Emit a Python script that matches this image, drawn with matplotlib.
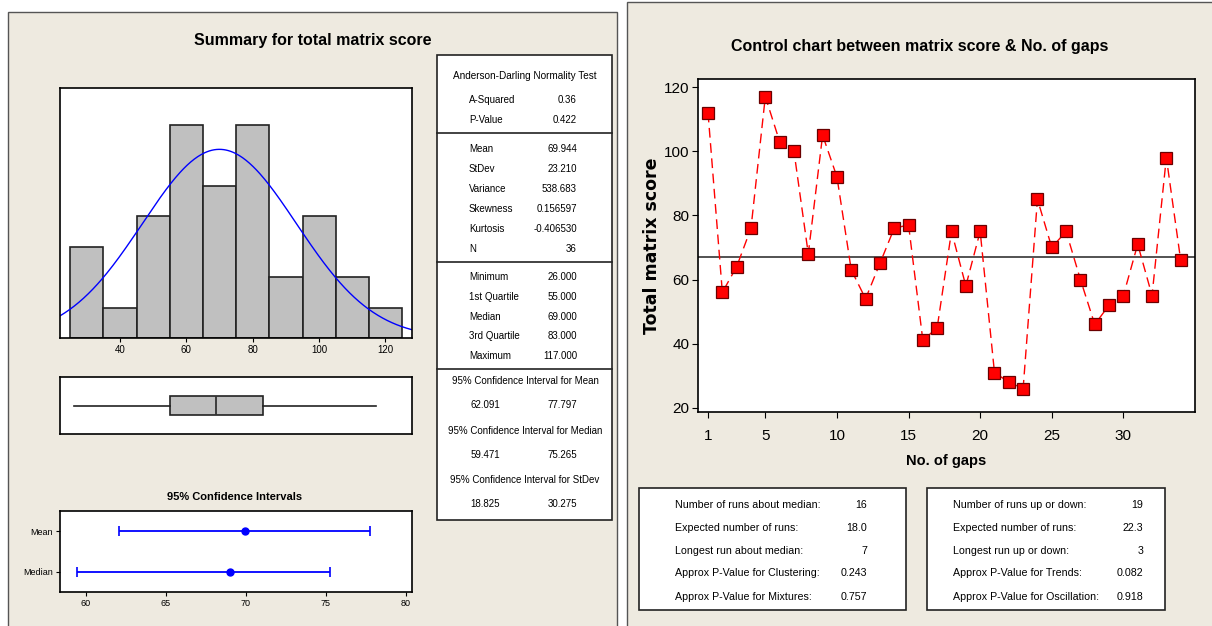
import numpy as np
import matplotlib
matplotlib.use("Agg")
import matplotlib.pyplot as plt
from matplotlib.patches import Rectangle

NARROW = ['Liberation Sans', 'DejaVu Sans']

# -----------------------
#      Data
# -----------------------
bin_edges = [25, 35, 45, 55, 65, 75, 85, 95, 105, 115, 125]
bin_counts = [3, 1, 4, 7, 5, 7, 2, 4, 2, 1]

mean_sd = [69.944, 23.210]
n_obs = 36
box_stats = [26.0, 55.0, 69.0, 83.0, 117.0]  # min, q1, median, q3, max

ci_labels = ['Mean', 'Median']
ci_centers = [69.944, 69.0]
ci_low = [62.091, 59.471]
ci_high = [77.797, 75.265]

ad_labels = ['A-Squared', 'P-Value']
ad_values = ['0.36', '0.422']
moment_labels = ['Mean', 'StDev', 'Variance', 'Skewness', 'Kurtosis', 'N']
moment_values = ['69.944', '23.210', '538.683', '0.156597', '-0.406530', '36']
quant_labels = ['Minimum', '1st Quartile', 'Median', '3rd Quartile', 'Maximum']
quant_values = ['26.000', '55.000', '69.000', '83.000', '117.000']
ci_titles = ['95% Confidence Interval for Mean', '95% Confidence Interval for Median',
             '95% Confidence Interval for StDev']
ci_pairs = [('62.091', '77.797'), ('59.471', '75.265'), ('18.825', '30.275')]

gaps = list(range(1, 35))
scores = [112, 56, 64, 76, 117, 103, 100, 68, 105, 92, 63, 54, 65, 76, 77, 41, 45,
          75, 58, 75, 31, 28, 26, 85, 70, 75, 60, 46, 52, 55, 71, 55, 98, 66]
center_line = 67

runs_median_labels = ['Number of runs about median:', 'Expected number of runs:',
                      'Longest run about median:', 'Approx P-Value for Clustering:',
                      'Approx P-Value for Mixtures:']
runs_median_values = ['16', '18.0', '7', '0.243', '0.757']
runs_updown_labels = ['Number of runs up or down:', 'Expected number of runs:',
                      'Longest run up or down:', 'Approx P-Value for Trends:',
                      'Approx P-Value for Oscillation:']
runs_updown_values = ['19', '22.3', '3', '0.082', '0.918']

# -----------------------
#      Layout helpers
# -----------------------
W, H = 1212, 626
BEIGE = '#eeeae0'
fig = plt.figure(figsize=(W / 100, H / 100), dpi=100)
fig.patch.set_facecolor('white')


def box(x0, y0, x1, y1):
    # pixel box (top-left origin) -> figure fraction rect
    return [x0 / W, 1 - y1 / H, (x1 - x0) / W, (y1 - y0) / H]


def fx(x):
    return x / W


def fy(y):
    return 1 - y / H


def panel(x0, y0, x1, y1, face=BEIGE, edge='#555555', lw=1.0):
    r = Rectangle((fx(x0), fy(y1)), fx(x1) - fx(x0), fy(y0) - fy(y1),
                  transform=fig.transFigure, facecolor=face, edgecolor=edge, lw=lw,
                  zorder=-1)
    fig.patches.append(r)


def ftext(x, y, s, **kw):
    kw.setdefault('family', NARROW)
    kw.setdefault('fontsize', 7)
    kw.setdefault('va', 'center')
    fig.text(fx(x), fy(y), s, **kw)


# background panels
panel(8, 12, 617, 640)
panel(627, 2, 1214, 640)

# -----------------------
#      Left: summary
# -----------------------
ftext(313, 40, 'Summary for total matrix score', fontsize=11.5, weight='bold', ha='center')

ax_h = fig.add_axes(box(60, 88, 412, 338))
centers = [(a + b) / 2 for a, b in zip(bin_edges[:-1], bin_edges[1:])]
ax_h.hist(centers, bins=bin_edges, weights=bin_counts,
          color='#c0c0c0', edgecolor='#222222', lw=1.2)
xs = np.linspace(21.9, 128, 300)
pdf = np.exp(-0.5 * ((xs - mean_sd[0]) / mean_sd[1]) ** 2) / (mean_sd[1] * np.sqrt(2 * np.pi))
ax_h.plot(xs, n_obs * 10 * pdf, color='#0000ff', lw=1)
ax_h.set_xlim(21.9, 128)
ax_h.set_ylim(0, 8.2)
ax_h.set_yticks([])
ax_h.set_xticks([40, 60, 80, 100, 120])
ax_h.tick_params(axis='x', labelsize=7, length=3, pad=2)

ax_b = fig.add_axes(box(60, 377, 412, 434))
ax_b.bxp([{'whislo': box_stats[0], 'q1': box_stats[1], 'med': box_stats[2],
           'q3': box_stats[3], 'whishi': box_stats[4], 'fliers': []}],
         orientation='horizontal', widths=0.42, showcaps=False, patch_artist=True,
         boxprops=dict(facecolor='#c0c0c0', edgecolor='#222222', lw=1.2),
         medianprops=dict(color='#333333', lw=1.3),
         whiskerprops=dict(color='#222222', lw=1.2))
ax_b.set_xlim(21.9, 128)
ax_b.set_ylim(0.4, 1.6)
ax_b.set_xticks([])
ax_b.set_yticks([])

ftext(235, 497, '95% Confidence Intervals', fontsize=8, weight='bold', ha='center')
ax_c = fig.add_axes(box(60, 511, 412, 592))
ypos = [1, 0]
for yy, c, lo, hi in zip(ypos, ci_centers, ci_low, ci_high):
    ax_c.errorbar(c, yy, xerr=[[c - lo], [hi - c]], fmt='o', color='#0000ff',
                  ms=5, lw=1.3, capsize=3.5, capthick=1.2)
ax_c.set_xlim(58.4, 80.4)
ax_c.set_ylim(-0.5, 1.5)
ax_c.set_yticks(ypos)
ax_c.set_yticklabels(ci_labels)
ax_c.set_xticks([60, 65, 70, 75, 80])
ax_c.tick_params(labelsize=6.5, length=3, pad=2)

for a in (ax_h, ax_b, ax_c):
    for s in a.spines.values():
        s.set_lw(1.2)
    for lab in a.get_xticklabels() + a.get_yticklabels():
        lab.set_family(NARROW)

# stats table
panel(437, 55, 612, 520, face='white', edge='#222222', lw=1.2)
ftext(525, 76, 'Anderson-Darling Normality Test', ha='center', fontsize=7.2)
lab_x, val_x = 469, 577
for yy, l, v in zip([100, 120], ad_labels, ad_values):
    ftext(lab_x, yy, l)
    ftext(val_x, yy, v, ha='right')
for yy, l, v in zip(np.arange(149, 250, 20), moment_labels, moment_values):
    ftext(lab_x, yy, l)
    ftext(val_x, yy, v, ha='right')
for yy, l, v in zip(np.arange(277, 360, 19.8), quant_labels, quant_values):
    ftext(lab_x, yy, l)
    ftext(val_x, yy, v, ha='right')
for yy, t, (a, b) in zip([381, 431, 480], ci_titles, ci_pairs):
    ftext(525, yy, t, ha='center')
    ftext(485, yy + 24, a, ha='center')
    ftext(val_x, yy + 24, b, ha='right')
for yy in (133, 262, 369):
    fig.add_artist(plt.Line2D([fx(437), fx(612)], [fy(yy), fy(yy)], color='#222222', lw=1.2))

# -----------------------
#      Right: control chart
# -----------------------
ftext(920, 47, 'Control chart between matrix score & No. of gaps', fontsize=11.5,
      weight='bold', ha='center')

ax_r = fig.add_axes(box(698, 79, 1195, 412))
ax_r.axhline(center_line, color='#444444', lw=1.3, zorder=1)
ax_r.plot(gaps, scores, color='#ff0000', lw=1, dashes=(7, 4), zorder=2)
ax_r.plot(gaps, scores, ls='none', marker='s', ms=8, mfc='#ff0000', mec='#6a0000',
          mew=0.9, zorder=3)
ax_r.set_xlim(0.3, 35.0)
ax_r.set_ylim(18.7, 122.5)
ax_r.set_xticks([1, 5, 10, 15, 20, 25, 30])
ax_r.set_yticks([20, 40, 60, 80, 100, 120])
ax_r.tick_params(axis='y', labelsize=11, length=4, pad=2)
ax_r.tick_params(axis='x', labelsize=11, length=4, pad=8)
for lab in ax_r.get_xticklabels() + ax_r.get_yticklabels():
    lab.set_family(NARROW)
for s in ax_r.spines.values():
    s.set_lw(1.2)
ax_r.set_xlabel('No. of gaps', fontsize=10.5, weight='bold', family=NARROW)
ax_r.xaxis.set_label_coords(0.5, -0.125)
ax_r.set_ylabel('Total matrix score', fontsize=12.5, weight='bold')
ax_r.yaxis.set_label_coords(-0.075, 0.5)

# runs tables
for (x0, x1, lx, vx), labs, vals in [((639, 906, 675, 867), runs_median_labels, runs_median_values),
                                      ((927, 1165, 953, 1143), runs_updown_labels, runs_updown_values)]:
    panel(x0, 488, x1, 610, face='white', edge='#222222', lw=1.2)
    for yy, l, v in zip([505, 528, 551, 573, 597], labs, vals):
        ftext(lx, yy, l, fontsize=7.7)
        ftext(vx, yy, v, fontsize=7.7, ha='right')

fig.savefig('out.png', dpi=100, facecolor=fig.get_facecolor())
